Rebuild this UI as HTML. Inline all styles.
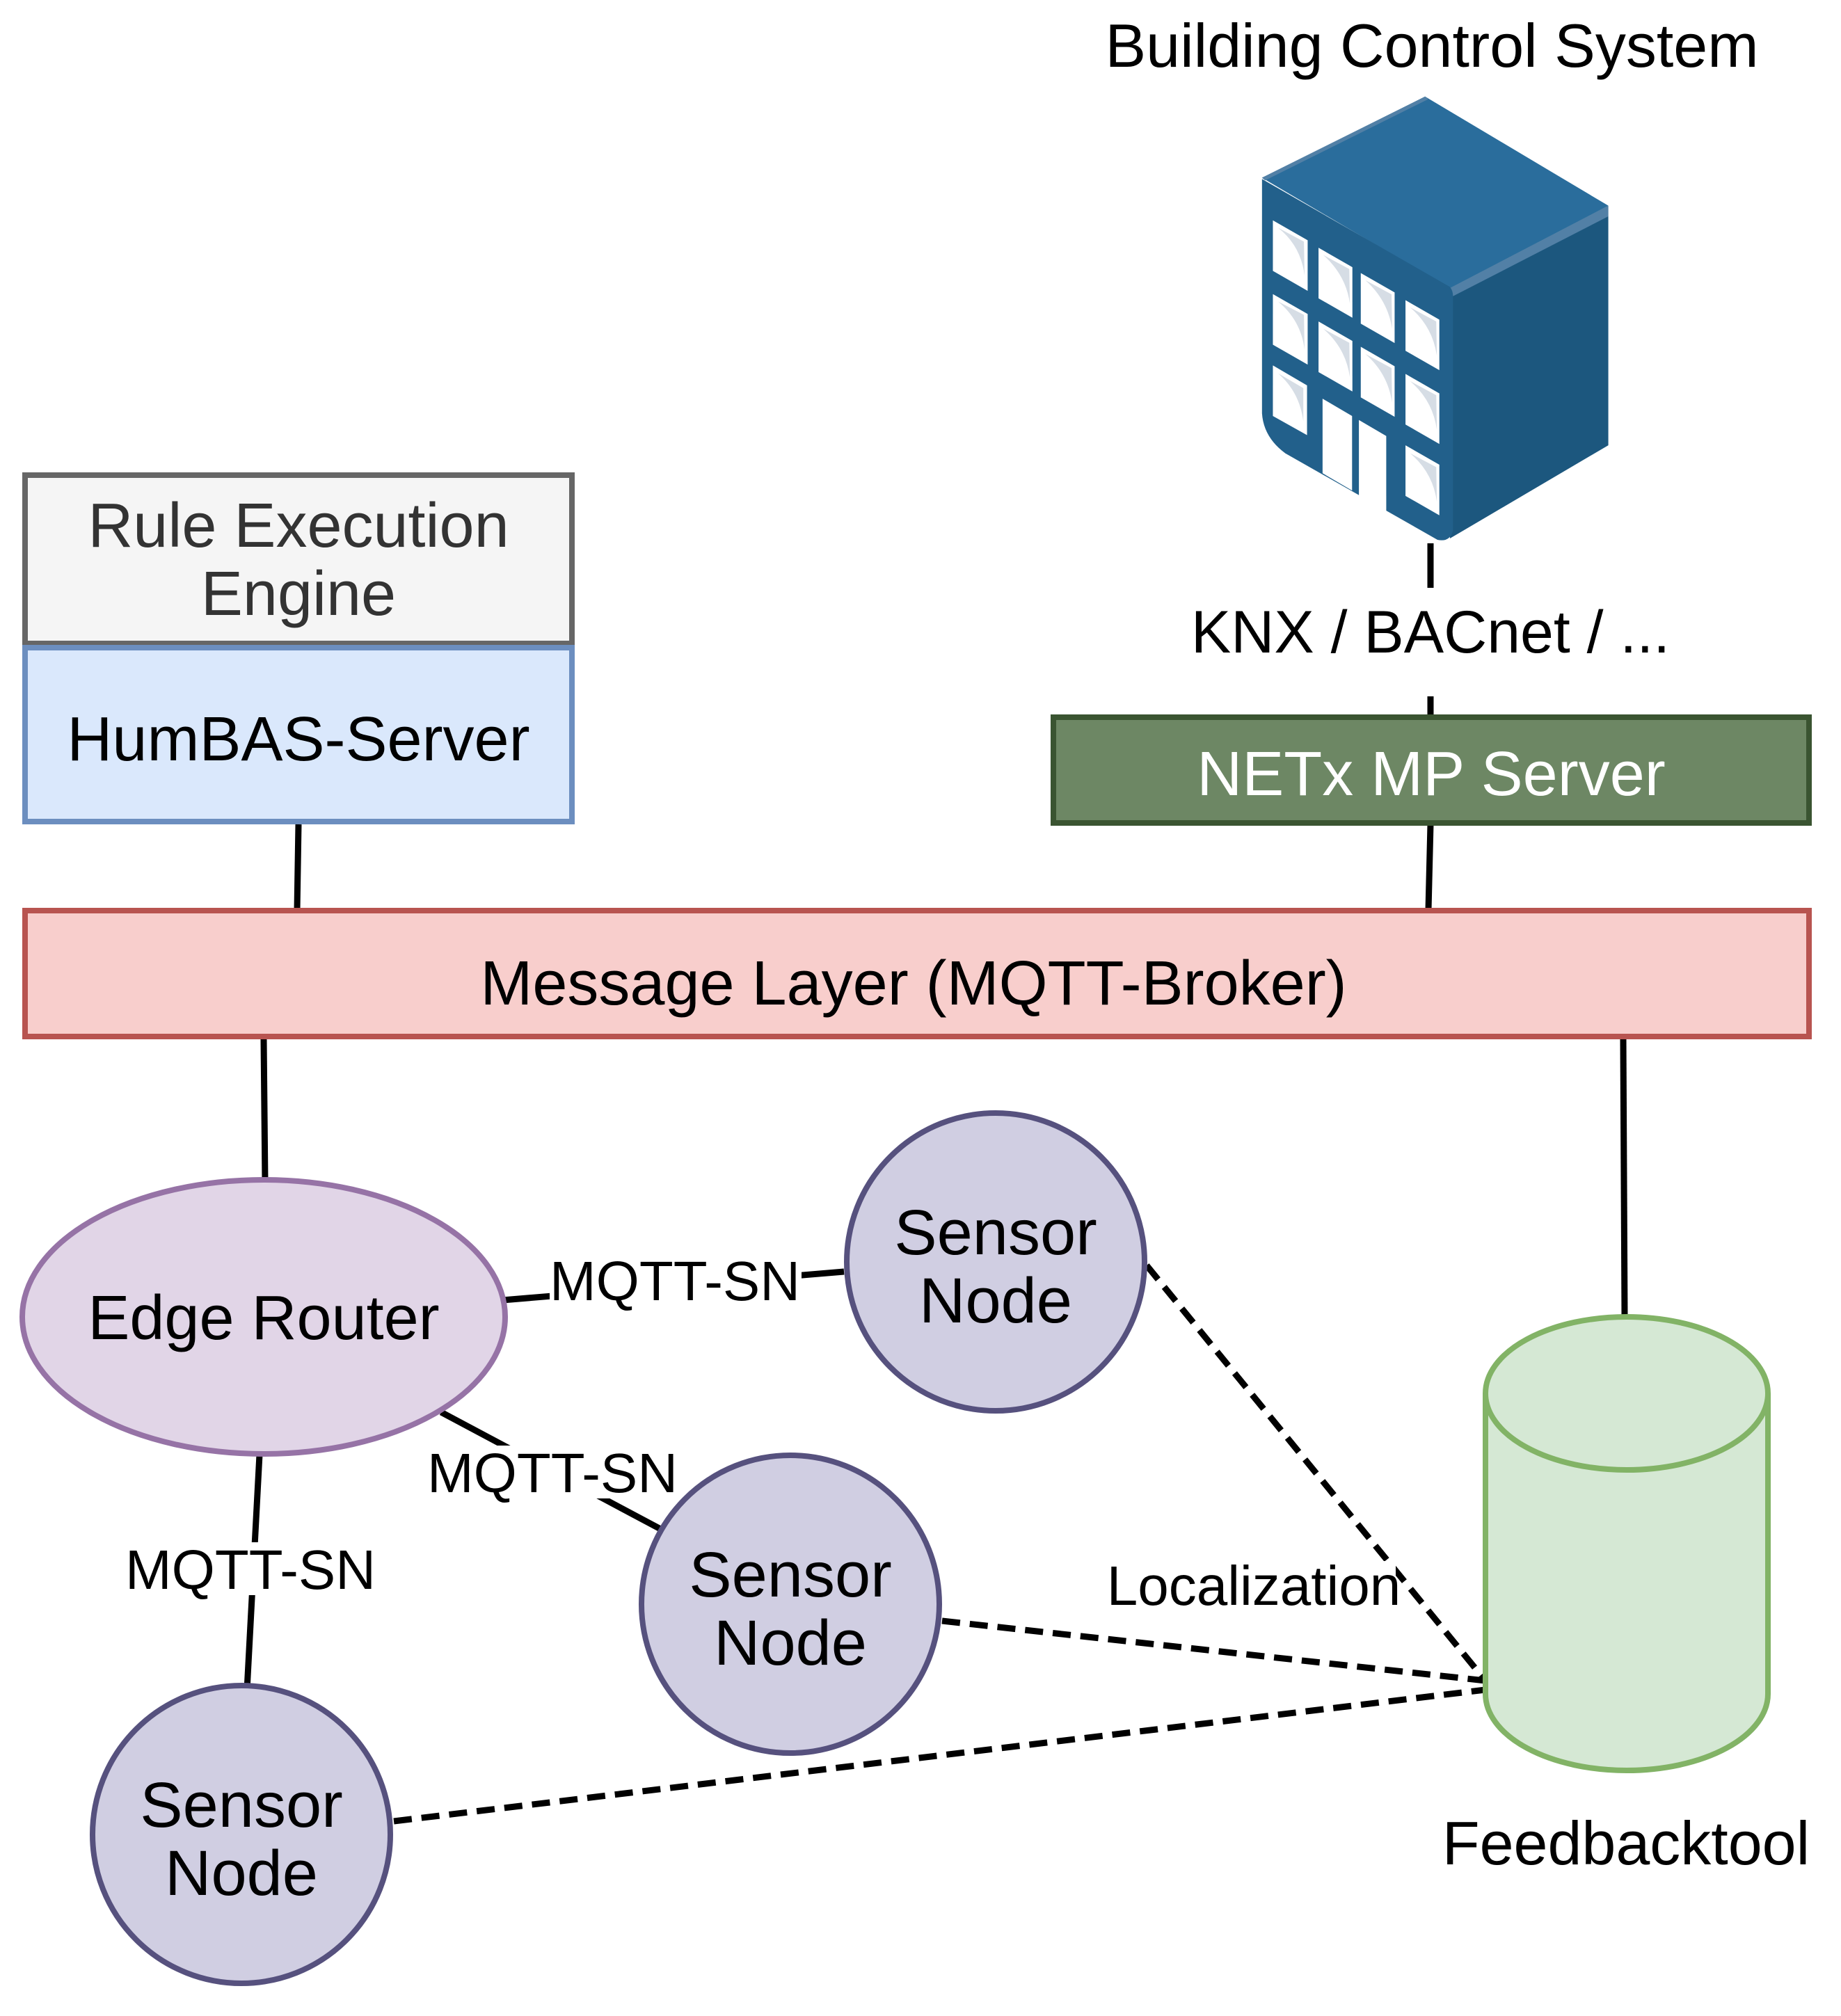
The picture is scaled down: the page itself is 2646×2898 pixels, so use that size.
<!DOCTYPE html>
<html><head><meta charset="utf-8"><style>
html,body{margin:0;padding:0;background:#fff;}
svg{display:block;}
text{font-family:"Liberation Sans",Arial,sans-serif;}
</style></head><body>
<svg width="2646" height="2898" viewBox="0 0 2646 2898" xmlns="http://www.w3.org/2000/svg">
<!-- Building icon -->
<g transform="translate(1700,200) scale(0.4464,0.3827)">
  <polygon points="255,145 780,-160 1370,250 860,560" fill="#2a6d9c"/>
  <polygon points="255,145 780,-160 790,-150 265,155" fill="#5280a6"/>
  <polygon points="860,560 1370,250 1370,1150 860,1500" fill="#1c577e"/>
  <polygon points="860,560 1370,250 1370,290 870,590" fill="#5280a6"/>
  <path d="M255,150 L860,555 Q870,570 870,590 L870,1470 Q860,1515 820,1505 L330,1180 Q260,1120 255,1030 Z" fill="#22608b"/>
  <g fill="#ffffff">
    <polygon points="290,305 402,380 402,570 290,495"/>
    <polygon points="290,582 402,657 402,847 290,772"/>
    <polygon points="290,850 400,925 400,1112 290,1040"/>
    <polygon points="437,408 546,481 546,671 437,598"/>
    <polygon points="437,685 546,758 546,948 437,875"/>
    <polygon points="450,975 545,1040 545,1320 450,1255"/>
    <polygon points="573,503 682,576 682,766 573,693"/>
    <polygon points="573,780 682,853 682,1043 573,970"/>
    <polygon points="567,1055 655,1115 655,1400 567,1340"/>
    <polygon points="717,605 826,678 826,868 717,795"/>
    <polygon points="717,882 826,955 826,1145 717,1072"/>
    <polygon points="717,1150 826,1223 826,1413 717,1340"/>
  </g>
  <g fill="#d6dde5">
    <path d="M307,333 L390,385 L392,512 Q380,400 307,333Z"/>
    <path d="M307,610 L390,660 L392,790 Q380,680 307,610Z"/>
    <path d="M307,880 L388,935 L388,1060 Q376,950 307,880Z"/>
    <path d="M452,435 L536,488 L538,618 Q525,510 452,435Z"/>
    <path d="M452,712 L536,765 L538,895 Q525,785 452,712Z"/>
    <path d="M588,530 L672,583 L674,713 Q660,605 588,530Z"/>
    <path d="M588,807 L672,860 L674,990 Q660,880 588,807Z"/>
    <path d="M732,632 L816,685 L818,815 Q805,705 732,632Z"/>
    <path d="M732,909 L816,962 L818,1092 Q805,982 732,909Z"/>
    <path d="M732,1180 L816,1232 L818,1362 Q805,1252 732,1180Z"/>
  </g>
</g>
<text x="2058" y="96" font-size="88" text-anchor="middle" fill="#000">Building Control System</text>

<!-- connectors -->
<g stroke="#000" stroke-width="9" fill="none">
  <line x1="2056" y1="781" x2="2056" y2="845"/>
  <line x1="2056" y1="1001" x2="2056" y2="1029"/>
  <line x1="429" y1="1185" x2="427" y2="1308"/>
  <line x1="2056" y1="1185" x2="2053" y2="1308"/>
  <line x1="379" y1="1494" x2="381" y2="1700"/>
  <line x1="2333" y1="1494" x2="2335" y2="1893"/>
  <line x1="722" y1="1869" x2="1213" y2="1828"/>
  <line x1="634" y1="2030" x2="955" y2="2201"/>
  <line x1="373" y1="2091" x2="355" y2="2429"/>
</g>
<g stroke="#000" stroke-width="9" fill="none" stroke-dasharray="26 14">
  <line x1="1648" y1="1819" x2="2135" y2="2416"/>
  <line x1="1354" y1="2330" x2="2135" y2="2416"/>
  <line x1="566" y1="2618" x2="2135" y2="2429"/>
</g>
<rect x="1660" y="890" width="790" height="105" fill="#fff"/>
<text x="2056" y="938" font-size="86" text-anchor="middle">KNX / BACnet / ...</text>

<!-- boxes -->
<rect x="36" y="683" width="786" height="242" fill="#f5f5f5" stroke="#666666" stroke-width="8"/>
<text x="429" y="786" font-size="90" text-anchor="middle" fill="#333">Rule Execution</text>
<text x="429" y="884" font-size="90" text-anchor="middle" fill="#333">Engine</text>
<rect x="36" y="931" width="786" height="250" fill="#dae8fc" stroke="#6c8ebf" stroke-width="8"/>
<text x="429" y="1093" font-size="90" text-anchor="middle">HumBAS-Server</text>
<rect x="1514" y="1031" width="1086" height="152" fill="#6d8764" stroke="#3a5431" stroke-width="8"/>
<text x="2057" y="1143" font-size="90" text-anchor="middle" fill="#fff">NETx MP Server</text>
<rect x="36" y="1309" width="2564" height="181" fill="#f8cecc" stroke="#b85450" stroke-width="8"/>
<text x="1313" y="1444" font-size="90" text-anchor="middle">Message Layer (MQTT-Broker)</text>

<!-- nodes -->
<ellipse cx="379" cy="1893" rx="347" ry="197" fill="#e1d5e7" stroke="#9673a6" stroke-width="8"/>
<text x="379" y="1925" font-size="90" text-anchor="middle">Edge Router</text>
<g fill="#d0cee2" stroke="#56517e" stroke-width="8">
  <circle cx="1431" cy="1814" r="214"/>
  <circle cx="1136" cy="2306" r="214"/>
  <circle cx="347" cy="2637" r="214"/>
</g>
<g font-size="92" text-anchor="middle">
  <text x="1431" y="1803">Sensor</text><text x="1431" y="1901">Node</text>
  <text x="1136" y="2295">Sensor</text><text x="1136" y="2393">Node</text>
  <text x="347" y="2626">Sensor</text><text x="347" y="2724">Node</text>
</g>

<!-- cylinder -->
<path d="M2135,2003 L2135,2435 A203,110 0 0 0 2541,2435 L2541,2003 A203,110 0 0 0 2135,2003 Z" fill="#d5e8d4" stroke="#82b366" stroke-width="8"/>
<path d="M2135,2003 A203,110 0 0 0 2541,2003" fill="none" stroke="#82b366" stroke-width="8"/>
<text x="2337" y="2680" font-size="88" text-anchor="middle">Feedbacktool</text>

<!-- labels -->
<g font-size="80" text-anchor="middle">
  <rect x="790" y="1802" width="362" height="76" fill="#fff"/>
  <text x="970" y="1869">MQTT-SN</text>
  <rect x="613" y="2078" width="362" height="76" fill="#fff"/>
  <text x="794" y="2145">MQTT-SN</text>
  <rect x="179" y="2217" width="362" height="76" fill="#fff"/>
  <text x="360" y="2284">MQTT-SN</text>
  <rect x="1596" y="2244" width="410" height="70" fill="#fff"/>
  <text x="1802" y="2307">Localization</text>
</g>
</svg>
</body></html>
